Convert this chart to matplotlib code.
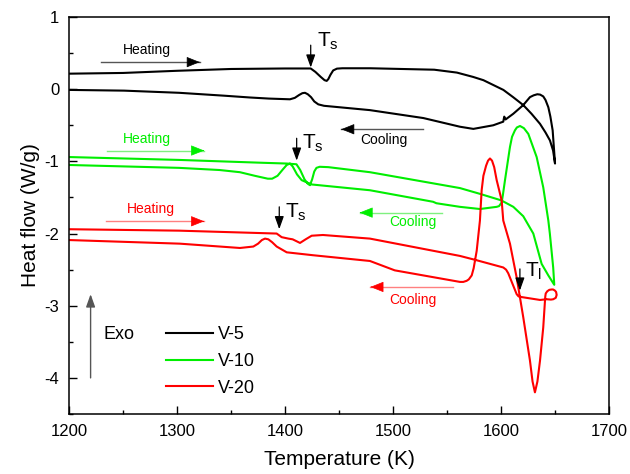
import matplotlib
matplotlib.use("Agg")
import matplotlib.pyplot as plt
from matplotlib.ticker import MultipleLocator

plt.rcParams["font.family"] = ["Liberation Sans", "DejaVu Sans"]
plt.rcParams["mathtext.default"] = "regular"
plt.rcParams["axes.unicode_minus"] = False

# V-5 (black)
v5_heat_T = [1200, 1250, 1300, 1350, 1400, 1423.7, 1428, 1433, 1436.5, 1438.5, 1440, 1442,
             1444.5, 1448, 1453, 1479, 1508, 1538, 1559, 1574, 1583.5, 1602, 1611, 1620.4,
             1628, 1635.9, 1641, 1645.1, 1648, 1649.8]
v5_heat_Q = [0.215, 0.225, 0.255, 0.28, 0.287, 0.287, 0.24, 0.17, 0.125, 0.115, 0.14, 0.2,
             0.26, 0.285, 0.29, 0.29, 0.28, 0.27, 0.23, 0.17, 0.125, -0.01, -0.11, -0.22,
             -0.34, -0.48, -0.60, -0.71, -0.85, -1.03]
v5_cool_T = [1649.8, 1647.6, 1645.5, 1643.6, 1641, 1638.9, 1636, 1633.4, 1630, 1626.6,
             1620.4, 1611.2, 1604, 1602.8, 1601.9, 1592.6, 1574.2, 1561.8, 1528, 1478.5,
             1436, 1430.7, 1427, 1424, 1421, 1418.4, 1416, 1413, 1409, 1404.5, 1385,
             1367.5, 1343.6, 1302, 1251, 1200]
v5_cool_Q = [-1.03, -0.57, -0.38, -0.25, -0.15, -0.10, -0.075, -0.07, -0.085, -0.11,
             -0.22, -0.34, -0.42, -0.38, -0.45, -0.50, -0.55, -0.52, -0.40, -0.29,
             -0.23, -0.21, -0.17, -0.11, -0.07, -0.05, -0.055, -0.08, -0.12, -0.14, -0.13,
             -0.115, -0.09, -0.05, -0.02, -0.01]

# V-10 (green)
v10_heat_T = [1200, 1302, 1380, 1401.5, 1410.5, 1414, 1418, 1421, 1423, 1425, 1427, 1429,
              1432, 1440, 1478.5, 1561.8, 1580.3, 1600, 1611.2, 1620.4, 1629.7, 1637.4,
              1643.6, 1649.1]
v10_heat_Q = [-0.94, -0.98, -1.02, -1.03, -1.04, -1.12, -1.25, -1.31, -1.33, -1.25, -1.14,
              -1.09, -1.075, -1.08, -1.15, -1.37, -1.45, -1.54, -1.63, -1.76, -2.00, -2.42,
              -2.58, -2.71]
v10_cool_T = [1649.1, 1648.1, 1645.0, 1643.6, 1638.9, 1632.8, 1625.1, 1621, 1617.4, 1614.5,
              1612.7, 1610, 1608.1, 1603.5, 1601.5, 1600.4, 1598, 1595.8, 1580.3, 1561.8,
              1540, 1537, 1478.5, 1424.6, 1415.3, 1411, 1407, 1404.5, 1401.5, 1398, 1393,
              1388, 1384, 1372, 1358.2, 1339.5, 1302, 1200]
v10_cool_Q = [-2.71, -2.47, -2.00, -1.82, -1.36, -0.94, -0.62, -0.54, -0.51, -0.53,
              -0.57, -0.66, -0.80, -1.26, -1.47, -1.57, -1.62, -1.63, -1.66, -1.63,
              -1.58, -1.56, -1.40, -1.32, -1.26, -1.18, -1.07, -1.03, -1.05, -1.11, -1.20,
              -1.24, -1.24, -1.20, -1.15, -1.12, -1.09, -1.05]

# V-20 (red)
v20_heat_T = [1200, 1302, 1392.2, 1396.8, 1403, 1407, 1413.8, 1419, 1424.6, 1435, 1478.5,
              1561.8, 1577.3, 1601.9, 1604.5, 1606.5, 1610, 1614.3, 1616, 1618.9, 1635.9,
              1642.1, 1646, 1648.2, 1650.5, 1651.3]
v20_heat_Q = [-1.94, -1.96, -2.00, -2.05, -2.07, -2.08, -2.13, -2.08, -2.03, -2.02, -2.07,
              -2.31, -2.37, -2.47, -2.50, -2.55, -2.68, -2.84, -2.87, -2.88, -2.92,
              -2.91, -2.915, -2.91, -2.89, -2.85]
v20_cool_T = [1651.3, 1650.8, 1649.7, 1648, 1646.7, 1644.5, 1642.6, 1641.2, 1640.8, 1640.5,
              1638.9, 1635.9, 1633.5, 1631.2, 1629, 1626.6, 1620.4, 1614.3, 1608.1, 1601.9,
              1600.4, 1595.8, 1593.5, 1591.5, 1589.6, 1587.8, 1586, 1583.5, 1581.9, 1580.3,
              1577.3, 1574.5, 1572.7, 1570, 1568, 1564.9, 1561.8, 1501.5, 1478.5, 1425.6,
              1401.5, 1392.2, 1388, 1384.5, 1381.4, 1378.5, 1375, 1370.6, 1358.2, 1302.5, 1200]
v20_cool_Q = [-2.85, -2.81, -2.79, -2.775, -2.775, -2.78, -2.80, -2.83, -2.87, -2.93,
              -3.30, -3.76, -4.05, -4.20, -4.05, -3.76, -3.16, -2.61, -2.14, -1.82,
              -1.54, -1.26, -1.08, -0.99, -0.96, -0.99, -1.06, -1.20, -1.40, -1.82,
              -2.24, -2.48, -2.58, -2.635, -2.655, -2.67, -2.67, -2.51, -2.38, -2.30,
              -2.26, -2.18, -2.12, -2.08, -2.07, -2.09, -2.14, -2.18, -2.20, -2.14, -2.09]

labels = ["V-5", "V-10", "V-20"]
colors = ["#000000", "#00ee00", "#ff0000"]
light = ["#555555", "#7ff07f", "#ff8080"]

fig = plt.figure(figsize=(6.3, 4.74), dpi=100)
ax = fig.add_axes([0.1095, 0.1266, 0.8576, 0.8375])

curves = [(v5_heat_T, v5_heat_Q, v5_cool_T, v5_cool_Q),
          (v10_heat_T, v10_heat_Q, v10_cool_T, v10_cool_Q),
          (v20_heat_T, v20_heat_Q, v20_cool_T, v20_cool_Q)]
for (hT, hQ, cT, cQ), lab, c in zip(curves, labels, colors):
    ax.plot(list(hT) + list(cT), list(hQ) + list(cQ), color=c, lw=1.5, label=lab,
            solid_joinstyle="round")


def hflow_arrow(x0, x1, y, c, lc):
    # thin shaft in a lighter tint, solid head
    ax.plot([x0, x1], [y, y], color=lc, lw=1.0)
    d = 1 if x1 > x0 else -1
    ax.annotate("", xy=(x1, y), xytext=(x1 - d * 1, y),
                arrowprops=dict(arrowstyle="-|>,head_length=0.7,head_width=0.28",
                                color=c, lw=0.5, shrinkA=0, shrinkB=0, mutation_scale=12))


def t_mark(x, y0, y1, text, tx, ty):
    ax.annotate("", xy=(x, y1), xytext=(x, y0),
                arrowprops=dict(arrowstyle="-|>,head_length=0.7,head_width=0.25",
                                color="black", lw=0.9, shrinkA=0, shrinkB=0, mutation_scale=11))
    ax.text(tx, ty, text, fontsize=15, ha="center", va="center")


# heating / cooling annotations
ax.text(1272, 0.54, "Heating", fontsize=10, color=colors[0], ha="center", va="center")
hflow_arrow(1230, 1321, 0.375, colors[0], light[0])
ax.text(1491, -0.71, "Cooling", fontsize=10, color=colors[0], ha="center", va="center")
hflow_arrow(1528, 1452, -0.555, colors[0], light[0])

ax.text(1272, -0.685, "Heating", fontsize=10, color=colors[1], ha="center", va="center")
hflow_arrow(1235, 1325, -0.85, colors[1], light[1])
ax.text(1518, -1.84, "Cooling", fontsize=10, color=colors[1], ha="center", va="center")
hflow_arrow(1545, 1469, -1.71, colors[1], light[1])

ax.text(1276, -1.66, "Heating", fontsize=10, color=colors[2], ha="center", va="center")
hflow_arrow(1234, 1325, -1.83, colors[2], light[2])
ax.text(1518, -2.92, "Cooling", fontsize=10, color=colors[2], ha="center", va="center")
hflow_arrow(1555, 1479, -2.74, colors[2], light[2])

# transition temperatures
t_mark(1423.7, 0.61, 0.30, "$T_s$", 1440, 0.66)
t_mark(1410.7, -0.68, -0.99, "$T_s$", 1426, -0.75)
t_mark(1394.6, -1.63, -1.94, "$T_s$", 1410, -1.70)
t_mark(1617.3, -2.49, -2.79, "$T_l$", 1630, -2.53)

# exothermic direction
ax.annotate("", xy=(1220, -2.84), xytext=(1220, -4.0),
            arrowprops=dict(arrowstyle="-|>,head_length=0.7,head_width=0.25",
                            color="#555555", lw=1.0, shrinkA=0, shrinkB=0, mutation_scale=11))
ax.text(1246, -3.4, "Exo", fontsize=13, ha="center", va="center")

ax.legend(loc="upper left", bbox_to_anchor=(0.166, 0.24), frameon=False, fontsize=13,
          handlelength=2.6, handletextpad=0.3, labelspacing=0.55, borderaxespad=0)

ax.set_xlim(1200, 1700)
ax.set_ylim(-4.5, 1)
ax.xaxis.set_major_locator(MultipleLocator(100))
ax.xaxis.set_minor_locator(MultipleLocator(50))
ax.yaxis.set_major_locator(MultipleLocator(1))
ax.yaxis.set_minor_locator(MultipleLocator(0.5))
ax.tick_params(which="both", direction="in", top=False, right=False, width=1.0)
ax.tick_params(which="major", length=6, labelsize=12, pad=7)
ax.tick_params(which="minor", length=3)
for s in ax.spines.values():
    s.set_linewidth(1.1)

ax.set_xlabel("Temperature (K)", fontsize=15, labelpad=8)
ax.set_ylabel("Heat flow (W/g)", fontsize=15, labelpad=3)

fig.savefig("out.png", dpi=100)
